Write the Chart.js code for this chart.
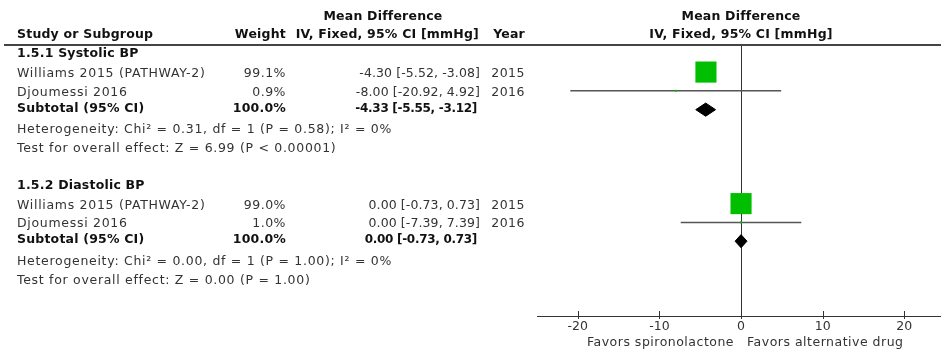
<!DOCTYPE html>
<html><head><meta charset="utf-8">
<script src="https://cdn.jsdelivr.net/npm/chart.js@4.4.0/dist/chart.umd.min.js"></script>
<style>
html,body{margin:0;padding:0;background:#fff;}
#wrap{position:relative;width:941px;height:353px;overflow:hidden;font-family:"DejaVu Sans",sans-serif;font-size:12.5px;color:#333;}
canvas{position:absolute;left:0;top:0;}
.t{position:absolute;white-space:nowrap;line-height:16px;height:16px;}
.b{font-weight:bold;color:#111;letter-spacing:0.2px;}
.w{letter-spacing:0.7px;}
.n{letter-spacing:0.5px;}
.ci{letter-spacing:0.1px;}
.bci{font-weight:bold;color:#111;font-size:12px;letter-spacing:-0.3px;}
#hline{position:absolute;left:4px;top:44px;width:937px;height:2px;background:#444;}
</style></head><body><div id="wrap"><canvas id="c" width="941" height="353"></canvas><div id="hline"></div></div>
<script>
// ---------- data ----------
const groups = ['1.5.1 Systolic BP', '1.5.2 Diastolic BP'];
const studies = ['Williams 2015 (PATHWAY-2)', 'Djoumessi 2016', 'Williams 2015 (PATHWAY-2)', 'Djoumessi 2016'];
const studyGroup = [0, 0, 1, 1];
const weights = [99.1, 0.9, 99.0, 1.0];
const weightLabels = ['99.1%', '0.9%', '99.0%', '1.0%'];
const md = [-4.30, -8.00, 0.00, 0.00];
const ciLow = [-5.52, -20.92, -0.73, -7.39];
const ciHigh = [-3.08, 4.92, 0.73, 7.39];
const years = ['2015', '2016', '2015', '2016'];
const subMD = [-4.33, 0.00];
const subLow = [-5.55, -0.73];
const subHigh = [-3.12, 0.73];
const subWeight = ['100.0%', '100.0%'];
const heterogeneity = ['Heterogeneity: Chi² = 0.31, df = 1 (P = 0.58); I² = 0%', 'Heterogeneity: Chi² = 0.00, df = 1 (P = 1.00); I² = 0%'];
const overallEffect = ['Test for overall effect: Z = 6.99 (P < 0.00001)', 'Test for overall effect: Z = 0.00 (P = 1.00)'];
const xTicks = [-20, -10, 0, 10, 20];
const favorsLeft = 'Favors spironolactone';
const favorsRight = 'Favors alternative drug';

// ---------- row layout (structure) ----------
const groupStart = [];
const studyRow = [];
{
  let r = 0;
  groups.forEach((g, gi) => {
    groupStart.push(r);
    r += 1;
    studies.forEach((s, i) => { if (studyGroup[i] === gi) { studyRow[i] = r; r += 1; } });
    r += 4; // subtotal, heterogeneity, overall, blank
  });
}
const subRow = groups.map((g, gi) => {
  const n = studyGroup.filter(v => v === gi).length;
  return groupStart[gi] + 1 + n;
});

const GREEN = '#00bf00';
const DIAMOND_HALF = 0.35;

const datasets = [];
datasets.push({
  label: 'studies',
  data: md.map((v, i) => ({ x: v, y: studyRow[i] })),
  pointStyle: 'rect',
  pointRadius: ctx => 15 * Math.sqrt(weights[ctx.dataIndex] / 100),
  backgroundColor: GREEN, borderColor: GREEN, borderWidth: 0,
  showLine: false, order: 0
});
subMD.forEach((m, g) => {
  const r = subRow[g];
  datasets.push({
    label: 'subtotal ' + g,
    data: [{ x: subLow[g], y: r }, { x: m, y: r - DIAMOND_HALF }, { x: subHigh[g], y: r }, { x: m, y: r + DIAMOND_HALF }, { x: subLow[g], y: r }],
    showLine: true, fill: 'shape', tension: 0,
    backgroundColor: '#000', borderColor: '#000', borderWidth: 1,
    pointRadius: 0, order: 1
  });
});
md.forEach((m, i) => {
  datasets.push({
    label: 'ci ' + i,
    data: [{ x: ciLow[i], y: studyRow[i] }, { x: ciHigh[i], y: studyRow[i] }],
    showLine: true, fill: false,
    borderColor: '#555', borderWidth: 1.5, pointRadius: 0, order: 2
  });
});

const crossTicks = {
  id: 'crossTicks',
  afterDraw(chart) {
    const s = chart.scales.x, ctx = chart.ctx, b = chart.chartArea.bottom;
    ctx.save();
    ctx.strokeStyle = '#333'; ctx.lineWidth = 1;
    s.ticks.forEach(t => {
      const px = Math.round(s.getPixelForValue(t.value)) + 0.5;
      ctx.beginPath(); ctx.moveTo(px, b - 5); ctx.lineTo(px, b + 3); ctx.stroke();
    });
    ctx.restore();
  }
};

const chart = new Chart(document.getElementById('c'), {
  type: 'scatter',
  data: { datasets },
  options: {
    responsive: false, animation: false, devicePixelRatio: 1,
    layout: { autoPadding: false, padding: { left: 537, top: 45, right: 0, bottom: 0 } },
    plugins: { legend: { display: false }, tooltip: { enabled: false } },
    scales: {
      x: {
        type: 'linear', min: -25, max: 24.5,
        afterBuildTicks: s => { s.ticks = xTicks.map(v => ({ value: v })); },
        afterFit: s => { s.height = 37; },
        grid: { color: c => (c.tick && c.tick.value === 0) ? '#333' : 'rgba(0,0,0,0)', drawTicks: false, lineWidth: 1 },
        border: { display: true, color: '#333', width: 1 },
        ticks: { color: '#333', padding: 3, maxRotation: 0, autoSkip: false, font: { family: 'DejaVu Sans', size: 12.5 } }
      },
      y: { type: 'linear', min: -0.44, max: 13.98, reverse: true, display: false }
    }
  },
  plugins: [crossTicks]
});

// ---------- table text ----------
const wrap = document.getElementById('wrap');
function put(text, x, yc, align, cls) {
  const d = document.createElement('div');
  d.className = 't ' + (cls || '');
  d.textContent = text;
  d.style.top = (yc - 8) + 'px';
  if (align === 'right') { d.style.right = (941 - x) + 'px'; }
  else if (align === 'center') { d.style.left = (x - 200) + 'px'; d.style.width = '400px'; d.style.textAlign = 'center'; }
  else { d.style.left = x + 'px'; }
  wrap.appendChild(d);
}
const ys = v => chart.scales.y.getPixelForValue(v);
const xs = v => chart.scales.x.getPixelForValue(v);
const f2 = v => v.toFixed(2);
const ciText = (m, l, h) => f2(m) + ' [' + f2(l) + ', ' + f2(h) + ']';

put('Mean Difference', 383, 16, 'center', 'b');
put('Study or Subgroup', 17, 34, 'left', 'b');
put('Weight', 286, 34, 'right', 'b');
put('IV, Fixed, 95% CI [mmHg]', 479, 34, 'right', 'b');
put('Year', 525, 34, 'right', 'b');
put('Mean Difference', xs(0), 16, 'center', 'b');
put('IV, Fixed, 95% CI [mmHg]', xs(0), 34, 'center', 'b');

groups.forEach((g, gi) => {
  put(g, 17, ys(groupStart[gi]), 'left', 'b');
  const r = subRow[gi];
  put('Subtotal (95% CI)', 17, ys(r) - 2, 'left', 'b');
  put(subWeight[gi], 286, ys(r) - 2, 'right', 'b');
  put(ciText(subMD[gi], subLow[gi], subHigh[gi]), 477, ys(r) - 2, 'right', 'bci');
  put(heterogeneity[gi], 17, ys(r + 1) + 1, 'left', 'w');
  put(overallEffect[gi], 17, ys(r + 2) + 1, 'left', 'w');
});
studies.forEach((s, i) => {
  const y = ys(studyRow[i]) + 1;
  put(s, 17, y, 'left', 'w');
  put(weightLabels[i], 286, y, 'right', 'n');
  put(ciText(md[i], ciLow[i], ciHigh[i]), 480, y, 'right', 'ci');
  put(years[i], 525, y, 'right', 'n');
});
put(favorsLeft, xs(0) - 7, 342, 'right', 'n');
put(favorsRight, xs(0) + 6, 342, 'left', 'n');
</script></body></html>
